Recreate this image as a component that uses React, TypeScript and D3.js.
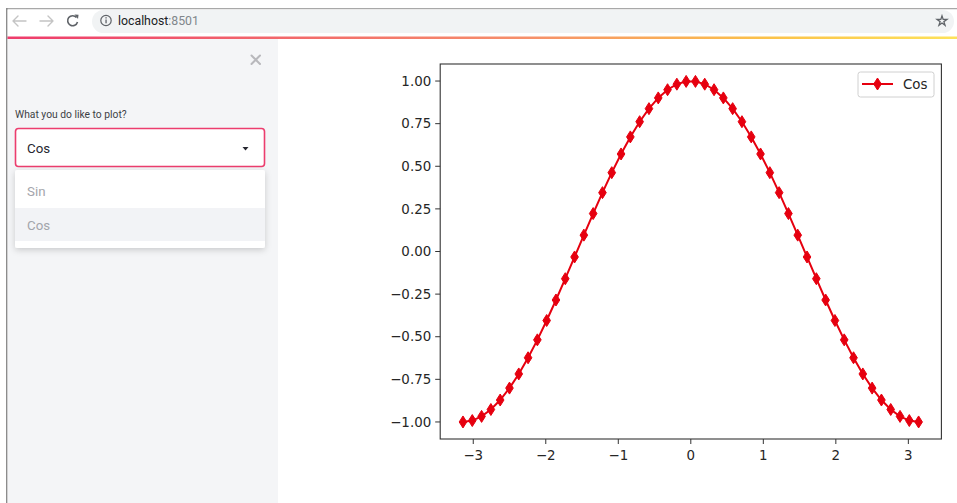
import React from "react";
import * as d3 from "d3";

// Data (50 samples, -π … π)
const xValues: number[] = [
  -3.1416, -3.0134, -2.8851, -2.7569, -2.6287, -2.5005, -2.3722, -2.244, -2.1158, -1.9875,
  -1.8593, -1.7311, -1.6029, -1.4746, -1.3464, -1.2182, -1.0899, -0.9617, -0.8335, -0.7053,
  -0.577, -0.4488, -0.3206, -0.1923, -0.0641, 0.0641, 0.1923, 0.3206, 0.4488, 0.577,
  0.7053, 0.8335, 0.9617, 1.0899, 1.2182, 1.3464, 1.4746, 1.6029, 1.7311, 1.8593,
  1.9875, 2.1158, 2.244, 2.3722, 2.5005, 2.6287, 2.7569, 2.8851, 3.0134, 3.1416,
];
const cosValues: number[] = [
  -1.0, -0.9918, -0.9673, -0.9269, -0.8713, -0.8014, -0.7183, -0.6235, -0.5184, -0.4048,
  -0.2845, -0.1596, -0.0321, 0.096, 0.2225, 0.3454, 0.4625, 0.5721, 0.6723, 0.7615,
  0.8381, 0.901, 0.9491, 0.9816, 0.9979, 0.9979, 0.9816, 0.9491, 0.901, 0.8381,
  0.7615, 0.6723, 0.5721, 0.4625, 0.3454, 0.2225, 0.096, -0.0321, -0.1596, -0.2845,
  -0.4048, -0.5184, -0.6235, -0.7183, -0.8014, -0.8713, -0.9269, -0.9673, -0.9918, -1.0,
];
const xTicks: number[] = [-3, -2, -1, 0, 1, 2, 3];
const yTicks: number[] = [1.0, 0.75, 0.5, 0.25, 0.0, -0.25, -0.5, -0.75, -1.0];
const seriesName = "Cos";
const selectOptions: string[] = ["Sin", "Cos"];
const selectLabel = "What you do like to plot?";
const selectedValue = "Cos";
const urlHost = "localhost";
const urlPort = ":8501";

const W = 957;
const H = 503;
const RED = "#e6000f";
const MPL_FONT = "'DejaVu Sans', sans-serif";
const UI_FONT = "Roboto, 'Noto Sans', sans-serif";

const fmtY = (v: number) => (v < 0 ? "\u2212" : "") + Math.abs(v).toFixed(2);
const fmtX = (v: number) => (v < 0 ? "\u2212" : "") + Math.abs(v).toString();

export default function App() {
  const xMargin = (xValues[xValues.length - 1] - xValues[0]) * 0.05;
  const xScale = d3
    .scaleLinear()
    .domain([xValues[0] - xMargin, xValues[xValues.length - 1] + xMargin])
    .range([440.2, 941.4]);
  const yScale = d3.scaleLinear().domain([-1.1, 1.1]).range([439, 64]);

  const line = d3
    .line<number>()
    .x((_, i) => xScale(xValues[i]))
    .y((d) => yScale(d));

  const diamond = "M0,-6 L3.8,0 L0,6 L-3.8,0 Z";

  const [x0, x1] = xScale.range();
  const [yB, yT] = yScale.range();

  return (
    <svg
      width={W}
      height={H}
      style={{ position: "fixed", left: 0, top: 0, display: "block" }}
      xmlns="http://www.w3.org/2000/svg"
    >
      <defs>
        <linearGradient id="deco" x1="0" x2="1" y1="0" y2="0">
          <stop offset="0" stopColor="#ee3c6c" />
          <stop offset="0.55" stopColor="#f6906a" />
          <stop offset="0.8" stopColor="#fbc24a" />
          <stop offset="1" stopColor="#fde25a" />
        </linearGradient>
        <filter id="shadow" x="-10%" y="-10%" width="120%" height="140%">
          <feDropShadow dx="0" dy="2" stdDeviation="3" floodColor="#000" floodOpacity="0.18" />
        </filter>
      </defs>

      {/* page background */}
      <rect x={0} y={0} width={W} height={H} fill="#ffffff" />

      {/* browser window frame */}
      <rect x={6} y={8} width={W - 6} height={1.5} fill="#a8a8a8" />
      <rect x={6} y={8} width={1.6} height={H - 8} fill="#8c8c8c" />

      {/* toolbar */}
      <rect x={7.6} y={9.5} width={W - 7.6} height={27} fill="#ffffff" />
      <rect x={92} y={10} width={862} height={23} rx={11.5} fill="#f1f3f4" />
      {/* back arrow */}
      <g stroke="#c4c4c4" strokeWidth={1.4} fill="none" strokeLinecap="round">
        <path d="M13,21 H26 M13,21 L18,16 M13,21 L18,26" />
      </g>
      {/* forward arrow */}
      <g stroke="#c4c4c4" strokeWidth={1.4} fill="none" strokeLinecap="round">
        <path d="M40,21 H53 M53,21 L48,16 M53,21 L48,26" />
      </g>
      {/* reload */}
      <g stroke="#5f6368" strokeWidth={1.6} fill="none">
        <path d="M76.5,17.5 A5,5 0 1 0 77.5,22" />
      </g>
      <path d="M74.5,14.5 L78.5,14.8 L78,19 Z" fill="#5f6368" />
      {/* info icon */}
      <circle cx={106} cy={20.5} r={5.2} fill="none" stroke="#5f6368" strokeWidth={1.2} />
      <rect x={105.4} y={19.5} width={1.3} height={3.8} fill="#5f6368" />
      <rect x={105.4} y={17.2} width={1.3} height={1.3} fill="#5f6368" />
      <text x={118} y={24.5} fontFamily={UI_FONT} fontSize={12.3} fill="#202124">
        {urlHost}
        <tspan fill="#80868b">{urlPort}</tspan>
      </text>
      {/* star */}
      <path
        d={d3.symbol(d3.symbolStar, 30)()!}
        transform="translate(942,21)"
        fill="none"
        stroke="#5f6368"
        strokeWidth={1.3}
      />

      {/* decoration line */}
      <rect x={7.6} y={36.5} width={W - 7.6} height={2.5} fill="url(#deco)" />

      {/* sidebar */}
      <rect x={7.6} y={39} width={270.4} height={H - 39} fill="#f4f5f7" />
      {/* close X */}
      <g stroke="#b8b8bc" strokeWidth={2} strokeLinecap="round">
        <path d="M251.5,55.5 L260,64 M260,55.5 L251.5,64" />
      </g>
      <text x={15} y={118} fontFamily={UI_FONT} fontSize={10.3} fill="#3d3f45">
        {selectLabel}
      </text>
      <rect x={15.5} y={128.5} width={249} height={38} rx={3} fill="#ffffff" stroke="#ec3d6e" strokeWidth={1.6} />
      <text x={27} y={152.5} fontFamily={UI_FONT} fontSize={13.3} fill="#262730">
        {selectedValue}
      </text>
      <path d="M242.5,147 L248.5,147 L245.5,150.5 Z" fill="#262730" />

      {/* dropdown menu */}
      <rect x={15} y={170} width={250} height={78} rx={2} fill="#ffffff" filter="url(#shadow)" />
      <rect x={15} y={208} width={250} height={33} fill="#f2f3f6" />
      {selectOptions.map((o, i) => (
        <text
          key={o}
          x={27}
          y={196 + i * 33.5}
          fontFamily={UI_FONT}
          fontSize={13.3}
          fill="#a3a5ab"
        >
          {o}
        </text>
      ))}

      {/* ===== matplotlib chart ===== */}
      <rect x={x0} y={yT} width={x1 - x0} height={yB - yT} fill="#ffffff" />

      {/* y ticks */}
      {yTicks.map((t) => (
        <g key={"y" + t} transform={`translate(0,${yScale(t)})`}>
          <line x1={x0 - 5} x2={x0} stroke="#333" strokeWidth={1} />
          <text
            x={x0 - 9}
            dy="0.35em"
            textAnchor="end"
            fontFamily={MPL_FONT}
            fontSize={13.4}
            fill="#262626"
          >
            {fmtY(t)}
          </text>
        </g>
      ))}
      {/* x ticks */}
      {xTicks.map((t) => (
        <g key={"x" + t} transform={`translate(${xScale(t)},0)`}>
          <line y1={yB} y2={yB + 5} stroke="#333" strokeWidth={1} />
          <text
            y={yB + 21}
            textAnchor="middle"
            fontFamily={MPL_FONT}
            fontSize={13.4}
            fill="#262626"
          >
            {fmtX(t)}
          </text>
        </g>
      ))}

      {/* series */}
      <path d={line(cosValues)!} fill="none" stroke={RED} strokeWidth={2} />
      {cosValues.map((v, i) => (
        <path
          key={i}
          d={diamond}
          transform={`translate(${xScale(xValues[i])},${yScale(v)})`}
          fill={RED}
          stroke={RED}
          strokeWidth={1}
        />
      ))}

      {/* spines */}
      <rect
        x={x0}
        y={yT}
        width={x1 - x0}
        height={yB - yT}
        fill="none"
        stroke="#333"
        strokeWidth={1.1}
      />

      {/* legend */}
      <rect x={858} y={72} width={76} height={25} rx={2.5} fill="#ffffff" fillOpacity={0.8} stroke="#d0d0d0" strokeWidth={1} />
      <line x1={862} x2={893} y1={84} y2={84} stroke={RED} strokeWidth={2} />
      <path d={diamond} transform="translate(877.5,84)" fill={RED} stroke={RED} strokeWidth={1} />
      <text x={903} y={84} dy="0.35em" fontFamily={MPL_FONT} fontSize={13.4} fill="#262626">
        {seriesName}
      </text>
    </svg>
  );
}
